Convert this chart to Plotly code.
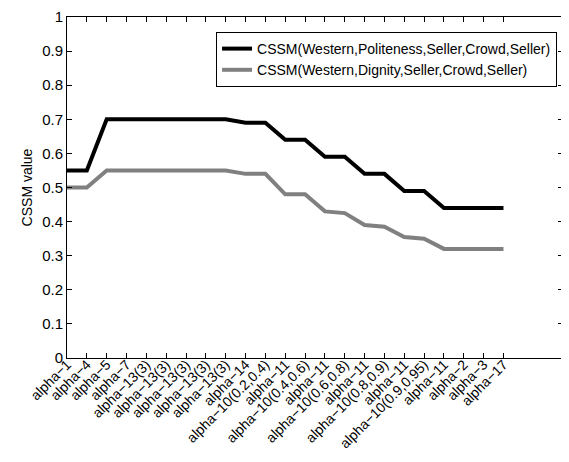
import plotly.graph_objects as go

labels = ["alpha−1", "alpha−4", "alpha−5", "alpha−7", "alpha−13(3)", "alpha−13(3)",
          "alpha−13(3)", "alpha−13(3)", "alpha−13(3)", "alpha−14", "alpha−10(0.2,0.4)",
          "alpha−11", "alpha−10(0.4,0.6)", "alpha−11", "alpha−10(0.6,0.8)", "alpha−11",
          "alpha−10(0.8,0.9)", "alpha−11", "alpha−10(0.9,0.95)", "alpha−11", "alpha−2",
          "alpha−3", "alpha−17"]
politeness = [0.55, 0.55, 0.70, 0.70, 0.70, 0.70, 0.70, 0.70, 0.70, 0.69, 0.69,
              0.64, 0.64, 0.59, 0.59, 0.54, 0.54, 0.49, 0.49, 0.44, 0.44, 0.44, 0.44]
dignity = [0.50, 0.50, 0.55, 0.55, 0.55, 0.55, 0.55, 0.55, 0.55, 0.54, 0.54,
           0.48, 0.48, 0.43, 0.425, 0.39, 0.385, 0.355, 0.35, 0.32, 0.32, 0.32, 0.32]
x = list(range(1, len(labels) + 1))

font = "Liberation Sans, Arial, Helvetica, sans-serif"

fig = go.Figure()
fig.add_trace(go.Scatter(x=x, y=politeness, mode="lines",
                         name="CSSM(Western,Politeness,Seller,Crowd,Seller)",
                         line=dict(color="black", width=4)))
fig.add_trace(go.Scatter(x=x, y=dignity, mode="lines",
                         name="CSSM(Western,Dignity,Seller,Crowd,Seller)",
                         line=dict(color="#808080", width=4)))

fig.update_layout(
    width=561, height=454,
    margin=dict(l=59, r=6, t=9, b=104),
    plot_bgcolor="white", paper_bgcolor="white",
    font=dict(family=font, size=14, color="black"),
    showlegend=True,
    legend=dict(x=0.988, y=0.956, xanchor="right", yanchor="top",
                bordercolor="black", borderwidth=1, bgcolor="white",
                font=dict(size=14), tracegroupgap=0),
)
fig.update_xaxes(range=[1, 26], tickmode="array", tickvals=x, ticktext=labels,
                 tickangle=-45, ticks="inside", ticklen=5, tickcolor="black",
                 showline=True, linecolor="black", linewidth=1, mirror="ticks",
                 showgrid=False, zeroline=False, tickfont=dict(size=14),
                 ticklabelstandoff=-8, automargin=False, ticklabeloverflow="allow")
fig.update_yaxes(range=[0, 1], dtick=0.1, tickformat="~g", ticks="inside", ticklen=5,
                 tickcolor="black", showline=True, linecolor="black", linewidth=1,
                 mirror="ticks", showgrid=False, zeroline=False,
                 title=dict(text="CSSM value", font=dict(size=14), standoff=6),
                 tickfont=dict(size=15), automargin=False, ticklabeloverflow="allow")

fig.write_html("out.html")
